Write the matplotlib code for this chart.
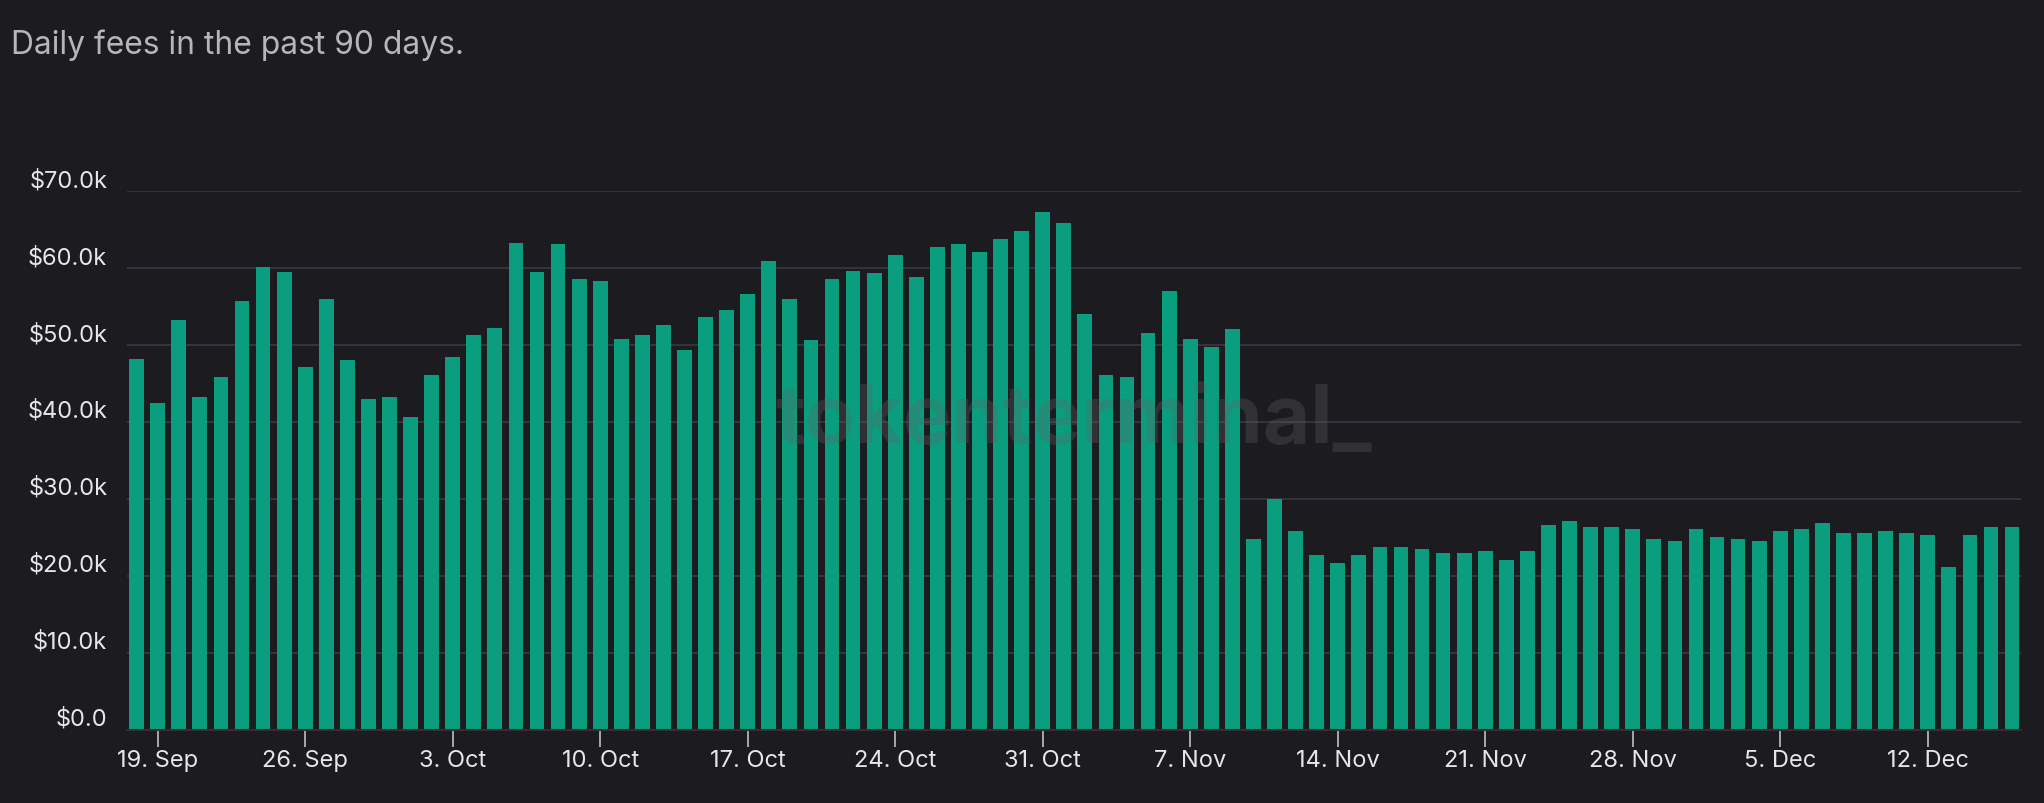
import pandas as pd
import matplotlib
matplotlib.use('Agg')
import matplotlib.pyplot as plt

# Frais journaliers (USD) sur 90 jours
start_date = "2022-09-18"
fees = [
    48200, 42500, 53200, 43300, 45900, 55700, 60200, 59500, 47200, 56000,
    48000, 43000, 43300, 40700, 46100, 48500, 51300, 52200, 63300, 59500,
    63100, 58600, 58400, 50800, 51300, 52600, 49300, 53700, 54500, 56600,
    61000, 56000, 50600, 58600, 59700, 59400, 61700, 58900, 62800, 63200,
    62100, 63800, 64900, 67300, 65900, 54000, 46100, 45900, 51600, 57000,
    50800, 49800, 52100, 24800, 30000, 25800, 22700, 21700, 22700, 23700,
    23700, 23500, 23000, 23000, 23200, 22000, 23200, 26600, 27100, 26300,
    26300, 26100, 24800, 24500, 26100, 25000, 24800, 24500, 25800, 26100,
    26900, 25600, 25600, 25800, 25600, 25300, 21200, 25300, 26300, 26300,
]
y_ticks = [0, 10000, 20000, 30000, 40000, 50000, 60000, 70000]
y_labels = ['$0.0', '$10.0k', '$20.0k', '$30.0k', '$40.0k', '$50.0k', '$60.0k', '$70.0k']

dates = pd.date_range(start_date, periods=len(fees), freq='D')
x = list(range(len(fees)))
tick_pos = [i for i, d in enumerate(dates) if (d - pd.Timestamp("2022-09-19")).days % 7 == 0]
tick_txt = [f"{dates[i].day}. {dates[i].strftime('%b')}" for i in tick_pos]

bg = '#1b1b20'
plt.rcParams['font.family'] = ['Inter', 'DejaVu Sans']

fig = plt.figure(figsize=(20.44, 8.04), dpi=100, facecolor=bg)
ax = fig.add_axes([0.062, 0.0914, 0.9268, 0.6694], facecolor=bg)

ax.bar(x, fees, width=0.7, color='#0a9e7e', zorder=2)

ax.set_xlim(-0.47, 89.43)
ax.set_ylim(0, 70000)
ax.set_yticks(y_ticks)
ax.set_yticklabels(y_labels)
ax.set_xticks(tick_pos)
ax.set_xticklabels(tick_txt)

ax.grid(axis='y', color='#34343a', linewidth=1.4, zorder=0)
for s in ['top', 'right', 'left']:
    ax.spines[s].set_visible(False)
ax.spines['bottom'].set_color('#3c2b34')
ax.spines['bottom'].set_linewidth(1.5)
ax.spines['bottom'].set_zorder(3)

ax.tick_params(axis='y', length=0, pad=14, labelsize=17, labelcolor='#e6e6e8')
ax.tick_params(axis='x', length=12, width=1.1, color='#cfcfd2', pad=2,
               labelsize=17, labelcolor='#e6e6e8')
for t in ax.get_yticklabels():
    t.set_verticalalignment('bottom')

# Filigrane
ax.text(0.5, 0.573, 'tokenterminal_', transform=ax.transAxes, ha='center', va='center',
        fontsize=59, fontweight='bold', color='#626267', alpha=0.3, zorder=5)

fig.text(11 / 2044, 1 - 54 / 804, 'Daily fees in the past 90 days.', fontsize=22.9,
         color='#b6b6ba', ha='left', va='baseline')

plt.savefig('out.png', dpi=100, facecolor=bg)
